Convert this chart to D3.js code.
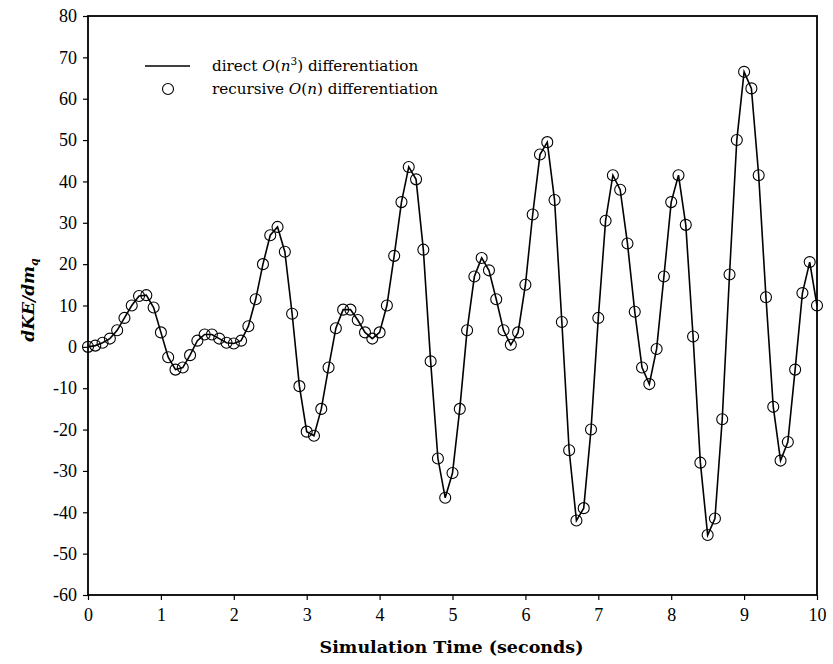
<!DOCTYPE html>
<html>
<head>
<meta charset="utf-8">
<script src="https://cdn.jsdelivr.net/npm/d3@7"></script>
<style>
  body { margin: 0; background: #fff; }
  text { font-family: "Liberation Serif", "DejaVu Serif", serif; fill: #000; }
</style>
</head>
<body>
<script>
// time samples (seconds), every 0.1 s
var times = d3.range(0, 101).map(function(i) { return i / 10; });

// dKE/dm_q values
var dke = [
  0, 0.3, 1, 2, 4, 7, 10, 12.3, 12.5, 9.5,
  3.5, -2.5, -5.5, -5, -2, 1.5, 3, 3, 2, 1,
  0.8, 1.5, 5, 11.5, 20, 27, 29, 23, 8, -9.5,
  -20.5, -21.5, -15, -5, 4.5, 9, 9, 6.5, 3.5, 2,
  3.5, 10, 22, 35, 43.5, 40.5, 23.5, -3.5, -27, -36.5,
  -30.5, -15, 4, 17, 21.5, 18.5, 11.5, 4, 0.5, 3.5,
  15, 32, 46.5, 49.5, 35.5, 6, -25, -42, -39, -20,
  7, 30.5, 41.5, 38, 25, 8.5, -5, -9, -0.5, 17,
  35, 41.5, 29.5, 2.5, -28, -45.5, -41.5, -17.5, 17.5, 50,
  66.5, 62.5, 41.5, 12, -14.5, -27.5, -23, -5.5, 13, 20.5,
  10
];

var xTicks = [0, 1, 2, 3, 4, 5, 6, 7, 8, 9, 10];
var yTicks = [-60, -50, -40, -30, -20, -10, 0, 10, 20, 30, 40, 50, 60, 70, 80];

var data = times.map(function(t, i) { return {t: t, v: dke[i]}; });

var width = 833, height = 664;
var margin = {top: 16, right: 16, bottom: 69, left: 88};
var w = width - margin.left - margin.right,
    h = height - margin.top - margin.bottom;

var svg = d3.select("body").append("svg")
    .attr("width", width)
    .attr("height", height);

var g = svg.append("g")
    .attr("transform", "translate(" + margin.left + "," + margin.top + ")");

var x = d3.scaleLinear().domain([0, 10]).range([0, w]);
var y = d3.scaleLinear().domain([-60, 80]).range([h, 0]);

// axes (plain hyphen for negatives, like the original)
var fmt = function(d) { return String(d); };
var xAxis = g.append("g")
    .attr("transform", "translate(0," + h + ")")
    .call(d3.axisBottom(x).tickValues(xTicks).tickSize(5).tickPadding(5).tickFormat(fmt));
var yAxis = g.append("g")
    .call(d3.axisLeft(y).tickValues(yTicks).tickSize(5).tickPadding(6).tickFormat(fmt));

[xAxis, yAxis].forEach(function(a) {
  a.select(".domain").remove();
  a.selectAll("line").attr("stroke", "#000").attr("stroke-width", 1.2);
  a.selectAll("text")
    .style("font-family", "'Liberation Serif', serif")
    .style("font-size", "18px")
    .attr("fill", "#000");
});
xAxis.selectAll("text").attr("dy", "0.9em");

// frame
g.append("rect")
    .attr("x", 0).attr("y", 0)
    .attr("width", w).attr("height", h)
    .attr("fill", "none")
    .attr("stroke", "#000")
    .attr("stroke-width", 1.8);

// direct line
var line = d3.line()
    .x(function(d) { return x(d.t); })
    .y(function(d) { return y(d.v); });

g.append("path")
    .datum(data)
    .attr("d", line)
    .attr("fill", "none")
    .attr("stroke", "#000")
    .attr("stroke-width", 1.6);

// recursive circles
g.selectAll("circle.pt")
    .data(data)
  .enter().append("circle")
    .attr("class", "pt")
    .attr("cx", function(d) { return x(d.t); })
    .attr("cy", function(d) { return y(d.v); })
    .attr("r", 5.5)
    .attr("fill", "none")
    .attr("stroke", "#000")
    .attr("stroke-width", 1.1);

// legend
var leg = svg.append("g");
leg.append("line")
    .attr("x1", 145).attr("x2", 190)
    .attr("y1", 66).attr("y2", 66)
    .attr("stroke", "#000").attr("stroke-width", 1.6);
leg.append("circle")
    .attr("cx", 168).attr("cy", 89).attr("r", 5.5)
    .attr("fill", "none").attr("stroke", "#000").attr("stroke-width", 1.1);

var t1 = leg.append("text").attr("x", 212).attr("y", 71)
    .style("font-family", "'DejaVu Serif', serif").style("font-size", "15.2px");
t1.append("tspan").text("direct ");
t1.append("tspan").style("font-style", "italic").text("O");
t1.append("tspan").text("(");
t1.append("tspan").style("font-style", "italic").text("n");
t1.append("tspan").attr("dy", -6).style("font-size", "10.5px").text("3");
t1.append("tspan").attr("dy", 6).text(") differentiation");

var t2 = leg.append("text").attr("x", 212).attr("y", 94)
    .style("font-family", "'DejaVu Serif', serif").style("font-size", "15.2px");
t2.append("tspan").text("recursive ");
t2.append("tspan").style("font-style", "italic").text("O");
t2.append("tspan").text("(");
t2.append("tspan").style("font-style", "italic").text("n");
t2.append("tspan").text(") differentiation");

// axis titles
svg.append("text")
    .attr("x", margin.left + w / 2 - 1)
    .attr("y", 653)
    .attr("text-anchor", "middle")
    .style("font-family", "'DejaVu Serif', serif")
    .style("font-size", "17.5px")
    .style("font-weight", "bold")
    .text("Simulation Time (seconds)");

var yt = svg.append("text")
    .attr("transform", "translate(34,300) rotate(-90)")
    .attr("text-anchor", "middle")
    .style("font-family", "'DejaVu Serif', serif")
    .style("font-size", "17px")
    .style("font-weight", "bold")
    .style("font-style", "italic");
yt.append("tspan").text("dKE/dm");
yt.append("tspan").attr("dy", 4).style("font-size", "11px").text("q");
</script>
</body>
</html>
